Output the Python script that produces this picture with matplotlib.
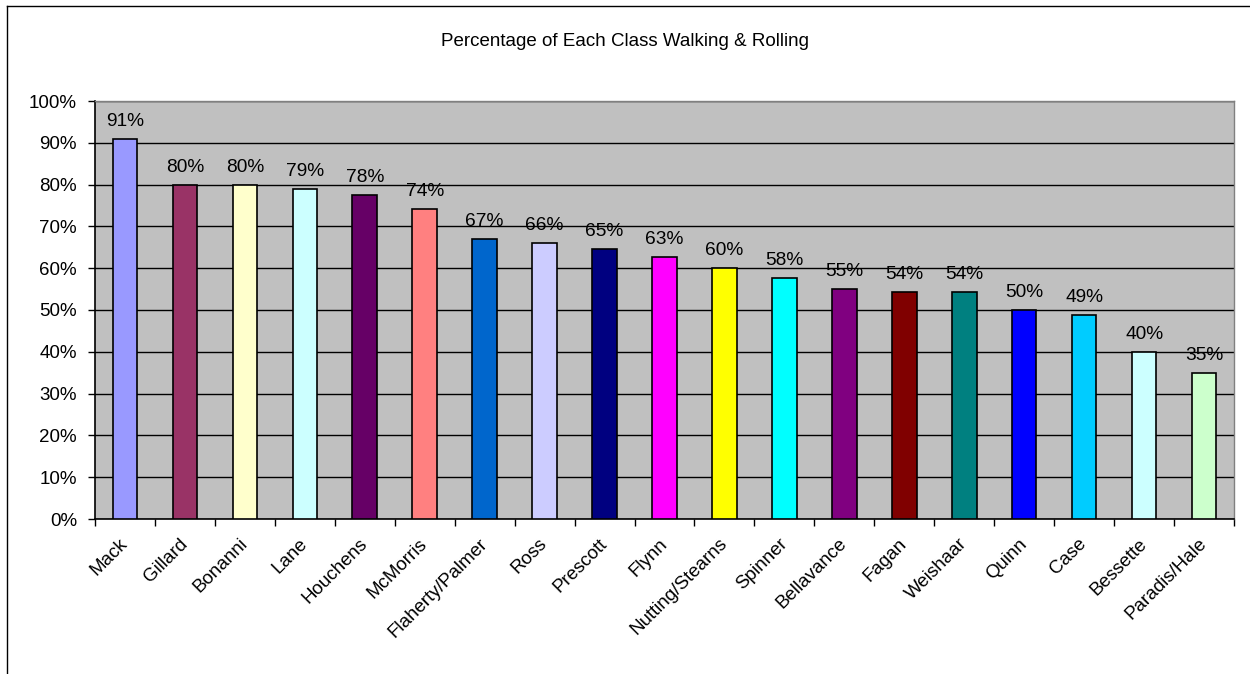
import matplotlib
matplotlib.use("Agg")
import matplotlib.pyplot as plt
from matplotlib.ticker import FixedLocator, PercentFormatter
from matplotlib.lines import Line2D

plt.rcParams['font.family'] = ['Liberation Sans', 'DejaVu Sans']

classes = ["Mack", "Gillard", "Bonanni", "Lane", "Houchens", "McMorris",
           "Flaherty/Palmer", "Ross", "Prescott", "Flynn", "Nutting/Stearns",
           "Spinner", "Bellavance", "Fagan", "Weishaar", "Quinn", "Case",
           "Bessette", "Paradis/Hale"]
values = [90.8, 80.0, 80.0, 78.9, 77.6, 74.2, 67.1, 66.0, 64.7, 62.6, 60.0,
          57.7, 55.1, 54.4, 54.2, 50.0, 48.7, 40.0, 34.9]
colors = ["#9999FF", "#993366", "#FFFFCC", "#CCFFFF", "#660066", "#FF8080",
          "#0066CC", "#CCCCFF", "#000080", "#FF00FF", "#FFFF00", "#00FFFF",
          "#800080", "#800000", "#008080", "#0000FF", "#00CCFF", "#CCFFFF",
          "#CCFFCC"]
title = "Percentage of Each Class Walking & Rolling"

fig = plt.figure(figsize=(12.5, 6.74), dpi=100)
W, H = 1250, 674
ax = fig.add_axes([95 / W, 1 - 519 / H, (1234 - 95) / W, (519 - 101) / H])
ax.set_facecolor("#C0C0C0")

x = list(range(len(classes)))
bars = ax.bar(x, values, width=0.41, color=colors, edgecolor="black",
              linewidth=1.2, zorder=3)
for xi, v in zip(x, values):
    ax.annotate(f"{round(v):d}%", (xi, v), xytext=(0, 9),
                textcoords="offset pixels", ha="center", va="bottom",
                fontsize=13.8, color="black", zorder=4)

ax.set_xlim(-0.5, len(classes) - 0.5)
ax.set_ylim(0, 100)
ax.yaxis.set_major_locator(FixedLocator([i * 10 for i in range(11)]))
ax.yaxis.set_major_formatter(PercentFormatter(decimals=0))
ax.grid(axis="y", color="black", linewidth=1.0, zorder=1)
ax.set_axisbelow(True)

ax.set_xticks(x)
ax.set_xticklabels(classes, rotation=45, ha="right", va="center",
                   rotation_mode="anchor", fontsize=13.5)
ax.xaxis.set_minor_locator(FixedLocator([i - 0.5 for i in range(len(classes) + 1)]))
ax.tick_params(axis="x", which="major", length=0, pad=16)
ax.tick_params(axis="x", which="minor", length=5, width=1, color="black")
ax.tick_params(axis="y", which="major", length=5, width=1, labelsize=13.5, pad=8)

for s in ["left", "bottom"]:
    ax.spines[s].set_color("black")
    ax.spines[s].set_linewidth(1.2)
for s in ["top", "right"]:
    ax.spines[s].set_color("#808080")
    ax.spines[s].set_linewidth(1.0)

fig.text(625 / W, 1 - 42 / H, title, ha="center", va="center", fontsize=13.5)

# outer chart-area frame
fig.add_artist(Line2D([7 / W, 7 / W], [0, 1 - 6 / H], color="black", linewidth=1.0))
fig.add_artist(Line2D([7 / W, 1], [1 - 6 / H, 1 - 6 / H], color="black", linewidth=1.0))

fig.savefig("out.png", dpi=100)
